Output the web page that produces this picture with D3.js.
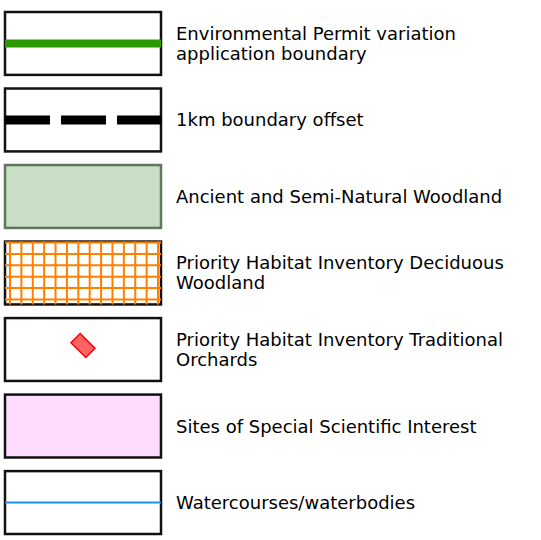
<!DOCTYPE html>
<html>
<head>
<meta charset="utf-8">
<script src="https://cdn.jsdelivr.net/npm/d3@7"></script>
<style>
  body { margin: 0; background: #fff; }
  text { font-family: "DejaVu Sans", Verdana, sans-serif; fill: #000; }
</style>
</head>
<body>
<svg id="legend" width="541" height="540"></svg>
<script>
// legend entries, top to bottom
var KEYS = ["boundary", "offset", "ancient", "deciduous", "orchards", "sssi", "water"];
var LABELS = [
  ["Environmental Permit variation", "application boundary"],
  ["1km boundary offset"],
  ["Ancient and Semi-Natural Woodland"],
  ["Priority Habitat Inventory Deciduous", "Woodland"],
  ["Priority Habitat Inventory Traditional", "Orchards"],
  ["Sites of Special Scientific Interest"],
  ["Watercourses/waterbodies"]
];
var FILLS = ["#fff", "#fff", "#c8dfc5", "#fff", "#fff", "#fddcfd", "#fff"];
var STROKES = ["#111", "#111", "#61755f", "#111", "#111", "#111", "#111"];

var svg = d3.select("#legend");

var y = d3.scaleBand().domain(KEYS).range([12, 534]).paddingInner(0.178);
var x = d3.scaleLinear().domain([0, 1]).range([5, 161]);
var h = y.bandwidth();

var rows = svg.selectAll("g.row")
  .data(KEYS)
  .enter().append("g")
  .attr("class", "row")
  .attr("transform", function(d) { return "translate(0," + y(d) + ")"; });

rows.append("rect")
  .attr("x", x(0))
  .attr("width", x(1) - x(0))
  .attr("height", h)
  .attr("fill", function(d, i) { return FILLS[i]; })
  .attr("stroke", function(d, i) { return STROKES[i]; })
  .attr("stroke-width", 2.5);

// symbols inside the boxes
rows.filter(function(d) { return d == "boundary"; })
  .append("line")
  .attr("x1", x(0)).attr("x2", x(1))
  .attr("y1", h / 2).attr("y2", h / 2)
  .attr("stroke", "#2a9a00").attr("stroke-width", 8);

rows.filter(function(d) { return d == "offset"; })
  .append("line")
  .attr("x1", x(0)).attr("x2", x(1))
  .attr("y1", h / 2).attr("y2", h / 2)
  .attr("stroke", "#000").attr("stroke-width", 9)
  .attr("stroke-dasharray", "45 11");

var grid = rows.filter(function(d) { return d == "deciduous"; }).append("g");
var gx = d3.scaleLinear().domain([0, 13]).range([x(0) + 5, x(1) - 3]);
var gy = d3.scaleLinear().domain([0, 5]).range([1, h - 5]);
grid.selectAll("line.v").data(d3.range(14)).enter().append("line")
  .attr("class", "v")
  .attr("x1", gx).attr("x2", gx)
  .attr("y1", 0).attr("y2", h)
  .attr("stroke", "#ff8000").attr("stroke-width", 2);
grid.selectAll("line.h").data(d3.range(6)).enter().append("line")
  .attr("class", "h")
  .attr("x1", x(0)).attr("x2", x(1))
  .attr("y1", gy).attr("y2", gy)
  .attr("stroke", "#ff8000").attr("stroke-width", 2);

rows.filter(function(d) { return d == "orchards"; })
  .append("rect")
  .attr("x", -10.5).attr("y", -6.5)
  .attr("width", 21).attr("height", 13)
  .attr("transform", "translate(" + x(0.5) + "," + (h / 2 - 4) + ") rotate(45)")
  .attr("fill", "#ff6464").attr("stroke", "#f00").attr("stroke-width", 1.5);

rows.filter(function(d) { return d == "water"; })
  .append("line")
  .attr("x1", x(0)).attr("x2", x(1))
  .attr("y1", h / 2).attr("y2", h / 2)
  .attr("stroke", "#1e8fff").attr("stroke-width", 2);

// labels
var LINE_H = 20;
rows.append("text")
  .attr("x", 176)
  .attr("font-size", 18)
  .each(function(d, i) {
    var lines = LABELS[i];
    var t = d3.select(this);
    lines.forEach(function(s, j) {
      t.append("tspan")
        .attr("x", 176)
        .attr("y", h / 2 + 6.5 + (j - (lines.length - 1) / 2) * LINE_H)
        .text(s);
    });
  });
</script>
</body>
</html>
